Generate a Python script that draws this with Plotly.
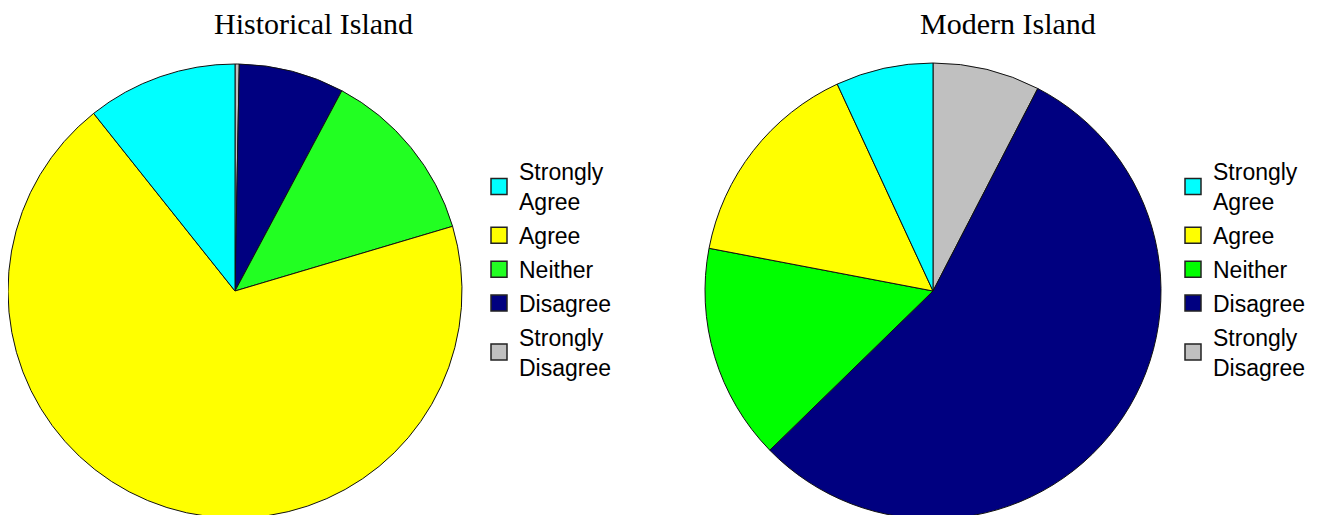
import plotly.graph_objects as go

categories = ["Strongly<br>Agree", "Agree", "Neither", "Disagree", "Strongly<br>Disagree"]
historical_values = [10.7, 68.9, 12.6, 7.5, 0.3]
modern_values = [6.9, 15.1, 15.3, 55.1, 7.6]
historical_colors = ["#00FFFF", "#FFFF00", "#22FF22", "#000080", "#C0C0C0"]
modern_colors = ["#00FFFF", "#FFFF00", "#00FF00", "#000080", "#C0C0C0"]
titles = ["Historical Island", "Modern Island"]

W, H = 1318, 515


def dom_x(cx, r):
    return [max(0, (cx - r) / W), min(1, (cx + r) / W)]


def dom_y(cy, r):
    return [max(0, (H - (cy + r)) / H), min(1, (H - (cy - r)) / H)]


fig = go.Figure()
pies = [
    (historical_values, historical_colors, 227, 283, 227, "legend", "h"),
    (modern_values, modern_colors, 925, 283, 228, "legend2", "m"),
]
for vals, cols, cx, cy, r, lg, key in pies:
    # slices run counterclockwise from 12 o'clock in category order;
    # drawn clockwise with the order reversed to get the same layout
    fig.add_trace(go.Pie(
        labels=categories[::-1], values=vals[::-1], sort=False,
        direction="clockwise", rotation=0, textinfo="none", hoverinfo="label+percent",
        marker=dict(colors=cols[::-1], line=dict(color="#111111", width=1)),
        domain=dict(x=dom_x(cx, r), y=dom_y(cy, r)),
        showlegend=False,
    ))
    for i, (lab, col) in enumerate(zip(categories, cols)):
        fig.add_trace(go.Scatter(
            x=[None], y=[None], mode="markers", name=lab, legend=lg,
            legendgroup=f"{key}{i}",
            marker=dict(symbol="square", size=16, color=col,
                        line=dict(color="#222222", width=1.5)),
            showlegend=True,
        ))

legend_font = dict(family="Liberation Sans, Arial, sans-serif", size=23, color="#000000")
title_font = dict(family="Liberation Serif, Times New Roman, serif", size=30, color="#000000")
fig.update_layout(
    width=W, height=H,
    margin=dict(l=0, r=0, t=0, b=0),
    paper_bgcolor="white", plot_bgcolor="white",
    xaxis=dict(visible=False), yaxis=dict(visible=False),
    legend=dict(x=471 / W, y=1 - 142 / H, xanchor="left", yanchor="top",
                font=legend_font, bgcolor="rgba(0,0,0,0)", traceorder="grouped",
                tracegroupgap=1),
    legend2=dict(x=1165 / W, y=1 - 142 / H, xanchor="left", yanchor="top",
                 font=legend_font, bgcolor="rgba(0,0,0,0)", traceorder="grouped",
                 tracegroupgap=1),
    annotations=[
        dict(text=titles[0], x=305 / W, y=1 - 16 / H, xref="paper", yref="paper",
             showarrow=False, xanchor="center", yanchor="middle", font=title_font),
        dict(text=titles[1], x=1000 / W, y=1 - 16 / H, xref="paper", yref="paper",
             showarrow=False, xanchor="center", yanchor="middle", font=title_font),
    ],
)

fig.write_html("out.html")
